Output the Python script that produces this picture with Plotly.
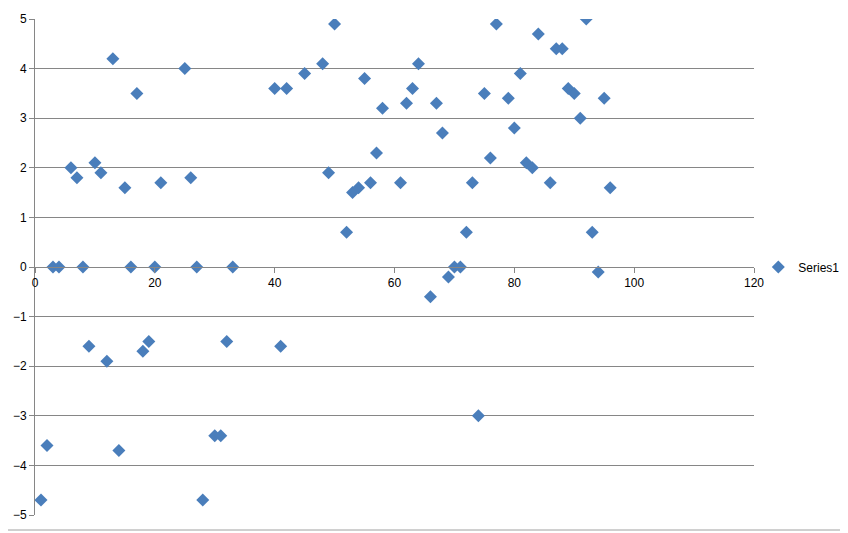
import plotly.graph_objects as go

# Series1 values
x_vals = [1, 2, 3, 4, 6, 7, 8, 9, 10, 11, 12, 13, 14, 15, 16, 17, 18, 19, 20, 21,
          25, 26, 27, 28, 30, 31, 32, 33, 40, 41, 42, 45, 48, 49, 50, 52, 53, 54, 55, 56,
          57, 58, 61, 62, 63, 64, 66, 67, 68, 69, 70, 71, 72, 73, 74, 75, 76, 77, 79, 80,
          81, 82, 83, 84, 86, 87, 88, 89, 90, 91, 92, 93, 94, 95, 96]
y_vals = [-4.7, -3.6, 0, 0, 2.0, 1.8, 0, -1.6, 2.1, 1.9, -1.9, 4.2, -3.7, 1.6, 0, 3.5, -1.7, -1.5, 0, 1.7,
          4.0, 1.8, 0, -4.7, -3.4, -3.4, -1.5, 0, 3.6, -1.6, 3.6, 3.9, 4.1, 1.9, 4.9, 0.7, 1.5, 1.6, 3.8, 1.7,
          2.3, 3.2, 1.7, 3.3, 3.6, 4.1, -0.6, 3.3, 2.7, -0.2, 0, 0, 0.7, 1.7, -3.0, 3.5, 2.2, 4.9, 3.4, 2.8,
          3.9, 2.1, 2.0, 4.7, 1.7, 4.4, 4.4, 3.6, 3.5, 3.0, 5.0, 0.7, -0.1, 3.4, 1.6]

x_ticks = [0, 20, 40, 60, 80, 100, 120]
y_ticks = [-5, -4, -3, -2, -1, 0, 1, 2, 3, 4, 5]

fig = go.Figure()
fig.add_trace(go.Scatter(
    x=x_vals, y=y_vals, mode="markers", name="Series1",
    marker=dict(symbol="diamond", size=10, color="#4A7EBB",
                line=dict(width=0))
))

axis_col = "#868686"
fig.update_layout(
    width=848, height=533,
    margin=dict(l=27, r=100, t=11, b=26),
    paper_bgcolor="white", plot_bgcolor="white",
    font=dict(family="Liberation Sans, Arial, sans-serif", size=12, color="#000000"),
    showlegend=True,
    legend=dict(x=1.006, y=0.5, xanchor="left", yanchor="middle",
                itemwidth=30, font=dict(size=12), bgcolor="rgba(0,0,0,0)"),
    xaxis=dict(range=[0, 120], tickvals=x_ticks, showgrid=False, zeroline=False,
               showline=True, linecolor=axis_col, linewidth=1,
               ticks="outside", ticklen=5, tickcolor=axis_col,
               anchor="free", position=0.5, automargin=False),
    yaxis=dict(range=[-5, 5], tickvals=y_ticks, showgrid=True, gridcolor=axis_col,
               gridwidth=1, zeroline=False, showline=True, linecolor=axis_col,
               ticks="outside", ticklen=5, tickcolor=axis_col, automargin=False),
)

# chart area border
fig.add_shape(type="rect", xref="paper", yref="paper",
              x0=-32 / 716, x1=811 / 716, y0=-15 / 496, y1=510 / 496,
              line=dict(color="#A0A0A0", width=1), layer="below")

fig.write_html("out.html")
